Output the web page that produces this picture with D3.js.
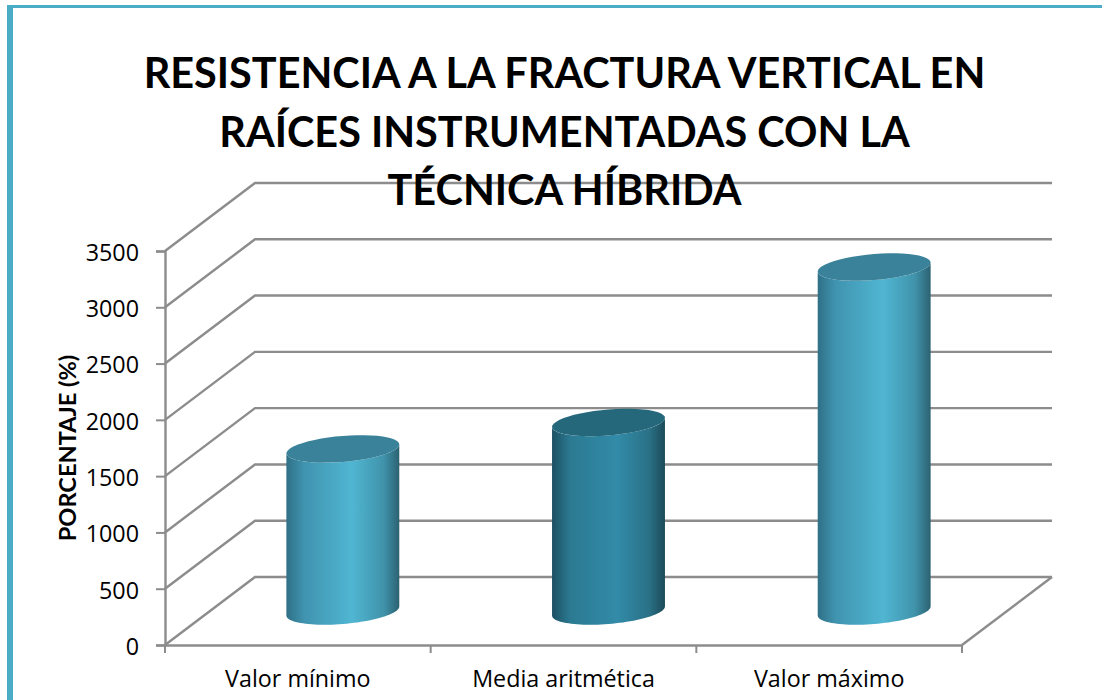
<!DOCTYPE html>
<html>
<head>
<meta charset="utf-8">
<script src="https://cdn.jsdelivr.net/npm/d3@7"></script>
<style>
  html, body { margin: 0; padding: 0; background: #fff; overflow: hidden; }
  svg { display: block; }
</style>
</head>
<body>
<div id="chart"></div>
<script>
const categories = ['Valor mínimo', 'Media aritmética', 'Valor máximo'];
const values = [1440, 1675, 3055];
const yTicks = [0, 500, 1000, 1500, 2000, 2500, 3000, 3500];
const titleLines = ['RESISTENCIA A LA FRACTURA VERTICAL EN', 'RAÍCES INSTRUMENTADAS CON LA', 'TÉCNICA HÍBRIDA'];
const yTitle = 'PORCENTAJE (%)';

// light / dark fills for the cylinders
const lightStops = ['#2f7086', '#4094b0', '#50b6d2', '#4093ab', '#2c6272'];
const darkStops = ['#1d5062', '#2b7a92', '#328ba8', '#2a7186', '#1c4a59'];
const stopOffsets = [0, 0.16, 0.58, 0.86, 1];
const barStyle = [lightStops, darkStops, lightStops];
const topFill = ['#3a8299', '#26687b', '#3a8299'];

const width = 1102, height = 700;
const gridColor = '#8c8c8c';
const depth = {x: 90, y: -68};

const svg = d3.select('#chart').append('svg')
  .attr('width', width)
  .attr('height', height);

// page border
svg.append('rect').attr('x', 7).attr('y', 5).attr('width', width - 7).attr('height', 3).attr('fill', '#4bacc6');
svg.append('rect').attr('x', 7).attr('y', 5).attr('width', 6).attr('height', height - 5).attr('fill', '#4bacc6');

const x = d3.scaleBand()
  .domain(categories)
  .range([165, 962])
  .paddingInner(0.575)
  .paddingOuter(0.2875);

const y = d3.scaleLinear()
  .domain([0, 3500])
  .range([645, 251]);

// back wall gridlines + side wall diagonals
const grid = svg.append('g').attr('fill', 'none').attr('stroke', gridColor).attr('stroke-width', 2.4);
grid.selectAll('path')
  .data(yTicks)
  .enter()
  .append('path')
  .attr('d', d => `M165,${y(d)}L${165 + depth.x},${y(d) + depth.y}L${962 + depth.x},${y(d) + depth.y}`);
grid.append('path')
  .attr('d', `M962,${y(0)}L${962 + depth.x},${y(0) + depth.y}`);

// axes
const yAxis = svg.append('g')
  .attr('transform', 'translate(165,0)')
  .call(d3.axisLeft(y).tickValues(yTicks).tickSize(9).tickPadding(17).tickFormat(d3.format('d')));

const xAxis = svg.append('g')
  .attr('transform', `translate(0,${y(0)})`)
  .call(d3.axisBottom(x).tickSize(0).tickPadding(25));

[yAxis, xAxis].forEach(g => {
  g.selectAll('.domain').attr('stroke', gridColor).attr('stroke-width', 2.4);
  g.selectAll('.tick line').attr('stroke', gridColor).attr('stroke-width', 2);
  g.selectAll('text')
    .attr('font-family', '"Open Sans", sans-serif')
    .attr('font-size', '23.3px')
    .attr('fill', '#000');
});
yAxis.selectAll('text').attr('dy', '0.4em');

// category separators below the x axis
svg.append('g')
  .selectAll('line')
  .data(d3.range(categories.length + 1))
  .enter()
  .append('line')
  .attr('x1', d => 165 + d * x.step())
  .attr('x2', d => 165 + d * x.step())
  .attr('y1', y(0))
  .attr('y2', y(0) + 8)
  .attr('stroke', gridColor)
  .attr('stroke-width', 2);

// gradients
const defs = svg.append('defs');
categories.forEach((c, i) => {
  const grad = defs.append('linearGradient').attr('id', `bar${i}`);
  barStyle[i].forEach((col, j) => {
    grad.append('stop').attr('offset', stopOffsets[j]).attr('stop-color', col);
  });
});

// skewed ellipse used for cylinder caps
const capHalfHeight = 13;
const capShear = 4.5;
function capPath(cx, cy, rx, from, to) {
  const n = 48;
  return d3.range(n + 1).map(k => {
    const t = from + (to - from) * k / n;
    return [cx + rx * Math.cos(t), cy + capHalfHeight * Math.sin(t) - capShear * Math.cos(t)];
  });
}

const line = d3.line();
const bars = svg.append('g');
categories.forEach((c, i) => {
  const rx = x.bandwidth() / 2;
  const cx = x(c) + rx + depth.x / 2;
  const base = y(0) + depth.y / 2;
  const top = y(values[i]) + depth.y / 2;

  // body: bottom front arc left to right, then back along the top front arc
  const lower = capPath(cx, base, rx, Math.PI, 0);
  const upper = capPath(cx, top, rx, 0, Math.PI);
  bars.append('path')
    .attr('d', line(lower.concat(upper)) + 'Z')
    .attr('fill', `url(#bar${i})`);

  bars.append('path')
    .attr('d', line(capPath(cx, top, rx, 0, Math.PI * 2)) + 'Z')
    .attr('fill', topFill[i]);
});

// title goes over the gridlines
svg.append('g')
  .selectAll('text')
  .data(titleLines)
  .enter()
  .append('text')
  .attr('x', 564.5)
  .attr('y', (d, i) => 88 + i * 58.5)
  .attr('text-anchor', 'middle')
  .attr('font-family', 'Lato, sans-serif')
  .attr('font-weight', 'bold')
  .attr('font-size', '41.4px')
  .attr('fill', '#000')
  .text(d => d);

svg.append('text')
  .attr('transform', 'translate(76,448) rotate(-90)')
  .attr('text-anchor', 'middle')
  .attr('font-family', 'Lato, sans-serif')
  .attr('font-weight', 'bold')
  .attr('font-size', '23.6px')
  .attr('fill', '#000')
  .text(yTitle);
</script>
</body>
</html>
